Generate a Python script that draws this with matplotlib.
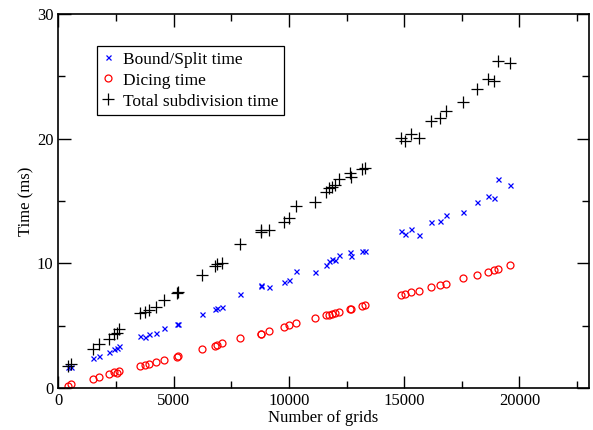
import matplotlib
matplotlib.use("Agg")
import matplotlib.pyplot as plt
from matplotlib.ticker import MultipleLocator

# Values
grids = [430, 550, 1492, 1765, 2212, 2429, 2533, 2646, 3556, 3773, 3934, 4237, 4571,
         5150, 5170, 6232, 6796, 6896, 7100, 7881, 8770, 8790, 9151, 9788, 9992,
         10309, 11133, 11623, 11753, 11870, 12013, 12161, 12650, 12680, 13184, 13314,
         14863, 15050, 15297, 15631, 16177, 16567, 16801, 17552, 18172, 18623, 18910,
         19083, 19603]
bound_split = [1.65, 1.65, 2.38, 2.59, 2.86, 3.13, 3.18, 3.37, 4.19, 4.11, 4.33, 4.38, 4.78,
               5.10, 5.15, 5.91, 6.31, 6.44, 6.50, 7.56, 8.18, 8.25, 8.08, 8.48, 8.66,
               9.38, 9.30, 9.89, 10.21, 10.32, 10.26, 10.64, 10.93, 10.61, 10.99, 11.01,
               12.61, 12.35, 12.75, 12.27, 13.30, 13.36, 13.85, 14.11, 14.89, 15.42, 15.21,
               16.74, 16.25]
dicing = [0.18, 0.30, 0.72, 0.86, 1.12, 1.26, 1.23, 1.34, 1.76, 1.82, 1.92, 2.11, 2.27,
          2.52, 2.56, 3.13, 3.37, 3.45, 3.58, 3.99, 4.33, 4.37, 4.60, 4.89, 5.05,
          5.19, 5.61, 5.83, 5.88, 5.93, 6.04, 6.09, 6.33, 6.33, 6.58, 6.66,
          7.46, 7.51, 7.70, 7.80, 8.12, 8.26, 8.32, 8.80, 9.06, 9.30, 9.44,
          9.54, 9.84]
total = [1.80, 1.93, 3.13, 3.50, 3.93, 4.33, 4.38, 4.71, 5.99, 6.07, 6.26, 6.52, 7.06,
         7.62, 7.72, 9.04, 9.78, 9.92, 10.06, 11.55, 12.49, 12.65, 12.70, 13.35, 13.66,
         14.60, 14.94, 15.74, 16.01, 16.14, 16.28, 16.76, 17.27, 16.95, 17.54, 17.62,
         20.02, 19.83, 20.37, 20.05, 21.41, 21.63, 22.21, 22.91, 23.95, 24.76, 24.65,
         26.25, 26.04]

plt.rcParams['font.family'] = ['Liberation Serif', 'DejaVu Serif']
plt.rcParams['font.size'] = 12

fig = plt.figure(figsize=(5.93, 4.30), dpi=100)
ax = fig.add_axes([0.0983, 0.0977, 0.8944, 0.8697])

ax.plot(grids, bound_split, linestyle='none', marker='x', color='#0000ff',
        markersize=3.6, markeredgewidth=0.9, label='Bound/Split time')
ax.plot(grids, dicing, linestyle='none', marker='o', markerfacecolor='none',
        markeredgecolor='#ff0000', markersize=5, markeredgewidth=0.9, label='Dicing time')
ax.plot(grids, total, linestyle='none', marker='+', color='black',
        markersize=8, markeredgewidth=0.9, label='Total subdivision time')

ax.set_xlim(0, 23000)
ax.set_ylim(0, 30)
ax.xaxis.set_major_locator(MultipleLocator(5000))
ax.xaxis.set_minor_locator(MultipleLocator(2500))
ax.yaxis.set_major_locator(MultipleLocator(10))
ax.yaxis.set_minor_locator(MultipleLocator(5))
ax.tick_params(which='both', direction='in', top=True, right=True, width=1.0)
ax.tick_params(which='major', length=9)
ax.tick_params(which='minor', length=5)
for s in ax.spines.values():
    s.set_linewidth(1.2)

ax.set_xlabel('Number of grids', labelpad=1)
ax.set_ylabel('Time (ms)', labelpad=2)

leg = ax.legend(loc='upper left', bbox_to_anchor=(0.073, 0.915), borderaxespad=0,
                frameon=True, fancybox=False, edgecolor='black', framealpha=1,
                handlelength=0.6, handletextpad=0.55, labelspacing=0.28,
                borderpad=0.32, fontsize=12.5)
leg.get_frame().set_linewidth(0.9)

fig.savefig('out.png', dpi=100)
